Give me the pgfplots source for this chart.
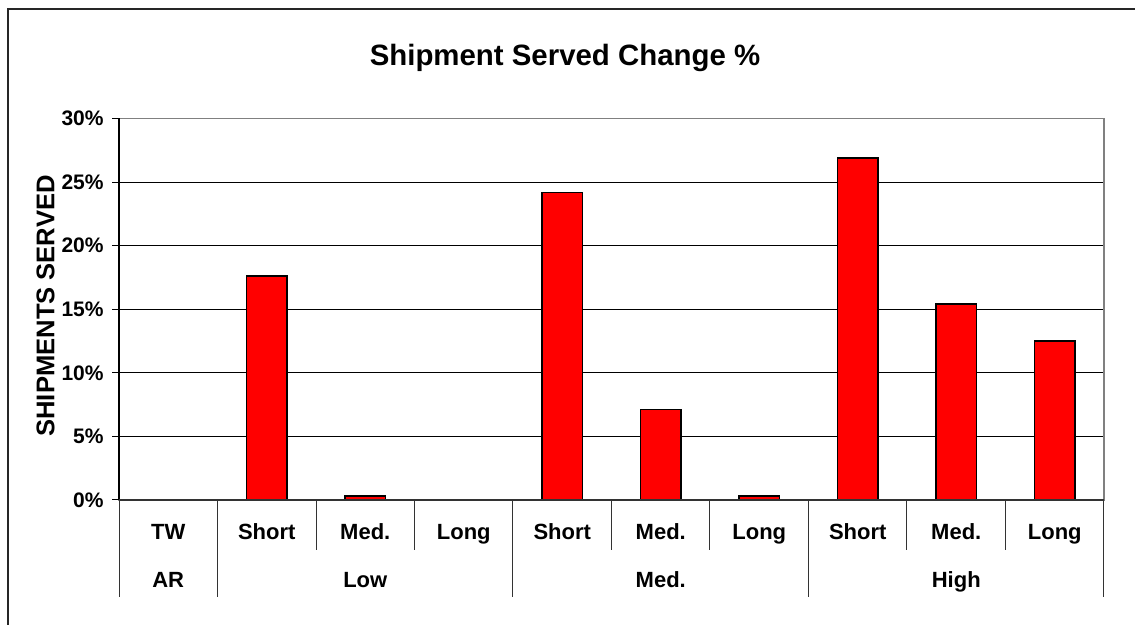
\documentclass[border=0pt]{standalone}
\usepackage{fontspec}
\setmainfont{Liberation Sans}
\usepackage{pgfplots}
\pgfplotsset{compat=1.18}
\begin{document}
\begin{tikzpicture}
\useasboundingbox (-59.5pt,-62.5pt) rectangle (508pt,250pt);
\draw[line width=1pt, black!85] (-55.5pt,-62.5pt) -- (-55.5pt,245.5pt) -- (508pt,245.5pt);
\node[anchor=base] at (223pt,217pt) {\fontsize{14.7}{17}\selectfont\bfseries Shipment Served Change \%};
\node[rotate=90, anchor=base] at (-32.35pt,97pt) {\fontsize{12.8}{15}\selectfont\bfseries SHIPMENTS SERVED};
\begin{axis}[
  at={(0pt,0pt)}, anchor=south west,
  scale only axis, width=492.5pt, height=190.75pt,
  xmin=-0.5, xmax=9.5, ymin=0, ymax=30,
  clip=false,
  ybar, bar width=20.25pt,
  axis line style={draw=gray, line width=0.6pt},
  ytick={0,5,10,15,20,25,30},
  yticklabels={0\%,5\%,10\%,15\%,20\%,25\%,30\%},
  ymajorgrids, major grid style={black, line width=0.5pt},
  ytick pos=left, tick align=outside, major tick length=3.5pt,
  ytick style={black, line width=0.5pt},
  yticklabel style={font=\fontsize{10.5}{12}\selectfont\bfseries, anchor=east, inner sep=0pt, xshift=-4pt},
  xtick={0,1,2,3,4,5,6,7,8,9},
  xticklabels={TW,Short,Med.,Long,Short,Med.,Long,Short,Med.,Long},
  xtick style={draw=none},
  xticklabel style={font=\fontsize{11}{13}\selectfont\bfseries, anchor=base, inner sep=0pt, yshift=-16.5pt},
]
\addplot[fill=red, draw=black, line width=0.75pt] coordinates {
  (0,0) (1,17.6) (2,0.3) (3,0) (4,24.2) (5,7.1) (6,0.3) (7,26.9) (8,15.4) (9,12.5)
};
\draw[black, line width=0.6pt] (rel axis cs:0,0) -- (rel axis cs:0,1);
\draw[black!80, line width=0.9pt] (rel axis cs:0,0) -- (rel axis cs:1,0);
\draw[black!80, line width=0.5pt] (axis cs:-0.5,0) -- ++(0pt,-48.5pt);
\draw[black!80, line width=0.5pt] (axis cs:0.5,0) -- ++(0pt,-48.5pt);
\draw[black!80, line width=0.5pt] (axis cs:1.5,0) -- ++(0pt,-25pt);
\draw[black!80, line width=0.5pt] (axis cs:2.5,0) -- ++(0pt,-25pt);
\draw[black!80, line width=0.5pt] (axis cs:3.5,0) -- ++(0pt,-48.5pt);
\draw[black!80, line width=0.5pt] (axis cs:4.5,0) -- ++(0pt,-25pt);
\draw[black!80, line width=0.5pt] (axis cs:5.5,0) -- ++(0pt,-25pt);
\draw[black!80, line width=0.5pt] (axis cs:6.5,0) -- ++(0pt,-48.5pt);
\draw[black!80, line width=0.5pt] (axis cs:7.5,0) -- ++(0pt,-25pt);
\draw[black!80, line width=0.5pt] (axis cs:8.5,0) -- ++(0pt,-25pt);
\draw[black!80, line width=0.5pt] (axis cs:9.5,0) -- ++(0pt,-48.5pt);
\node[anchor=base, font=\fontsize{11}{13}\selectfont\bfseries] at ([yshift=-44pt]axis cs:0,0) {AR};
\node[anchor=base, font=\fontsize{11}{13}\selectfont\bfseries] at ([yshift=-44pt]axis cs:2,0) {Low};
\node[anchor=base, font=\fontsize{11}{13}\selectfont\bfseries] at ([yshift=-44pt]axis cs:5,0) {Med.};
\node[anchor=base, font=\fontsize{11}{13}\selectfont\bfseries] at ([yshift=-44pt]axis cs:8,0) {High};
\end{axis}
\end{tikzpicture}
\end{document}
